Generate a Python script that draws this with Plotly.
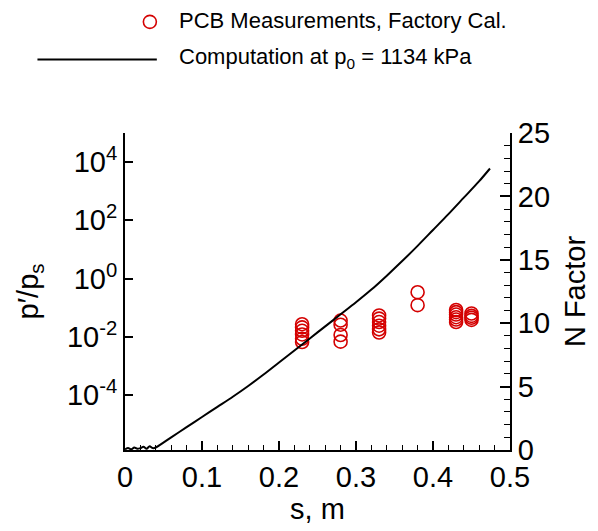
import plotly.graph_objects as go

# Measured pressure fluctuation ratio p'/p_s at each sensor station
s_meas = [0.23] * 6 + [0.28] * 4 + [0.33] * 6 + [0.38] * 2 + [0.43] * 6 + [0.45] * 4
p_meas = [
    0.027, 0.021, 0.016, 0.012, 0.0085, 0.0066,
    0.036, 0.026, 0.0115, 0.0068,
    0.054, 0.042, 0.032, 0.024, 0.018, 0.014,
    0.34, 0.122,
    0.083, 0.07, 0.058, 0.047, 0.039, 0.032,
    0.063, 0.052, 0.045, 0.038,
]

# Computed N factor along the surface
s_comp = [0.0, 0.004, 0.008, 0.012, 0.016, 0.02, 0.024, 0.028, 0.032, 0.036, 0.04,
          0.06, 0.08, 0.10, 0.12, 0.14, 0.16, 0.18, 0.20, 0.22, 0.24,
          0.26, 0.28, 0.30, 0.32, 0.34, 0.36, 0.38, 0.40, 0.42, 0.44,
          0.46, 0.474]
n_comp = [0.05, 0.15, 0.05, 0.2, 0.1, 0.15, 0.25, 0.1, 0.3, 0.15, 0.2,
          1.0, 1.8, 2.6, 3.4, 4.2, 5.05, 5.95, 6.9, 7.85, 8.8,
          9.75, 10.7, 11.65, 12.65, 13.75, 14.9, 16.1, 17.35, 18.6, 19.9,
          21.2, 22.2]

left_tickvals = [1e-4, 1e-2, 1e0, 1e2, 1e4]
left_ticktext = ["10<sup>-4</sup>", "10<sup>-2</sup>", "10<sup>0</sup>",
                 "10<sup>2</sup>", "10<sup>4</sup>"]

RED = "#d40000"
FONT = "Liberation Sans, Arial, sans-serif"
TICK = 29
TITLE = 29

fig = go.Figure()
fig.add_trace(go.Scatter(
    x=s_meas, y=p_meas, mode="markers", yaxis="y",
    marker=dict(symbol="circle-open", size=13, color=RED, line=dict(width=1.6, color=RED)),
    showlegend=False,
))
fig.add_trace(go.Scatter(
    x=s_comp, y=n_comp, mode="lines", yaxis="y2",
    line=dict(color="black", width=2, shape="spline", smoothing=0.8),
    showlegend=False,
))

W, H = 598, 531
L, R, T, B = 125, 86, 133, 70
pw, ph = W - L - R, H - T - B


def px(xp):
    return (xp - L) / pw


def py(yp):
    return (H - B - yp) / ph


fig.update_layout(
    width=W, height=H,
    margin=dict(l=L, r=R, t=T, b=B),
    paper_bgcolor="white", plot_bgcolor="white",
    font=dict(family=FONT, color="black", size=TICK),
    xaxis=dict(
        range=[0, 0.5], dtick=0.1, showgrid=False, zeroline=False,
        showline=True, linecolor="black", linewidth=2,
        ticks="inside", ticklen=9, tickwidth=1.5, tickcolor="black",
        minor=dict(dtick=0.02, ticks="inside", ticklen=5, tickwidth=1, tickcolor="black"),
        tickfont=dict(size=TICK),
        title=dict(text="s, m", font=dict(size=TITLE), standoff=6),
    ),
    yaxis=dict(
        type="log", range=[-5.89, 5.0], showgrid=False, zeroline=False,
        showline=True, linecolor="black", linewidth=2,
        tickvals=left_tickvals, ticktext=left_ticktext,
        ticks="inside", ticklen=8, tickwidth=1.5, tickcolor="black",
        tickfont=dict(size=TICK),
        title=dict(text="p′/p<sub>s</sub>", font=dict(size=TITLE), standoff=20),
    ),
    yaxis2=dict(
        overlaying="y", side="right", range=[0, 25], dtick=5,
        showgrid=False, zeroline=False,
        showline=True, linecolor="black", linewidth=2,
        ticks="inside", ticklen=10, tickwidth=1.5, tickcolor="black",
        minor=dict(dtick=1, ticks="inside", ticklen=6, tickwidth=1, tickcolor="black"),
        tickfont=dict(size=TICK),
        title=dict(text="N Factor", font=dict(size=TITLE), standoff=16),
    ),
    shapes=[
        dict(type="line", xref="paper", yref="paper",
             x0=px(37), x1=px(157), y0=py(57), y1=py(57),
             line=dict(color="black", width=2)),
        dict(type="circle", xref="paper", yref="paper",
             xsizemode="pixel", ysizemode="pixel",
             xanchor=px(150), yanchor=py(18),
             x0=-6.5, x1=6.5, y0=-6.5, y1=6.5,
             line=dict(color=RED, width=1.6)),
    ],
    annotations=[
        dict(text="PCB Measurements, Factory Cal.", xref="paper", yref="paper",
             x=px(177), y=py(17), xanchor="left", yanchor="middle",
             showarrow=False, font=dict(size=22)),
        dict(text="Computation at p<sub>0</sub> = 1134 kPa", xref="paper", yref="paper",
             x=px(177), y=py(55), xanchor="left", yanchor="middle",
             showarrow=False, font=dict(size=22)),
    ],
)

fig.write_html("out.html")
